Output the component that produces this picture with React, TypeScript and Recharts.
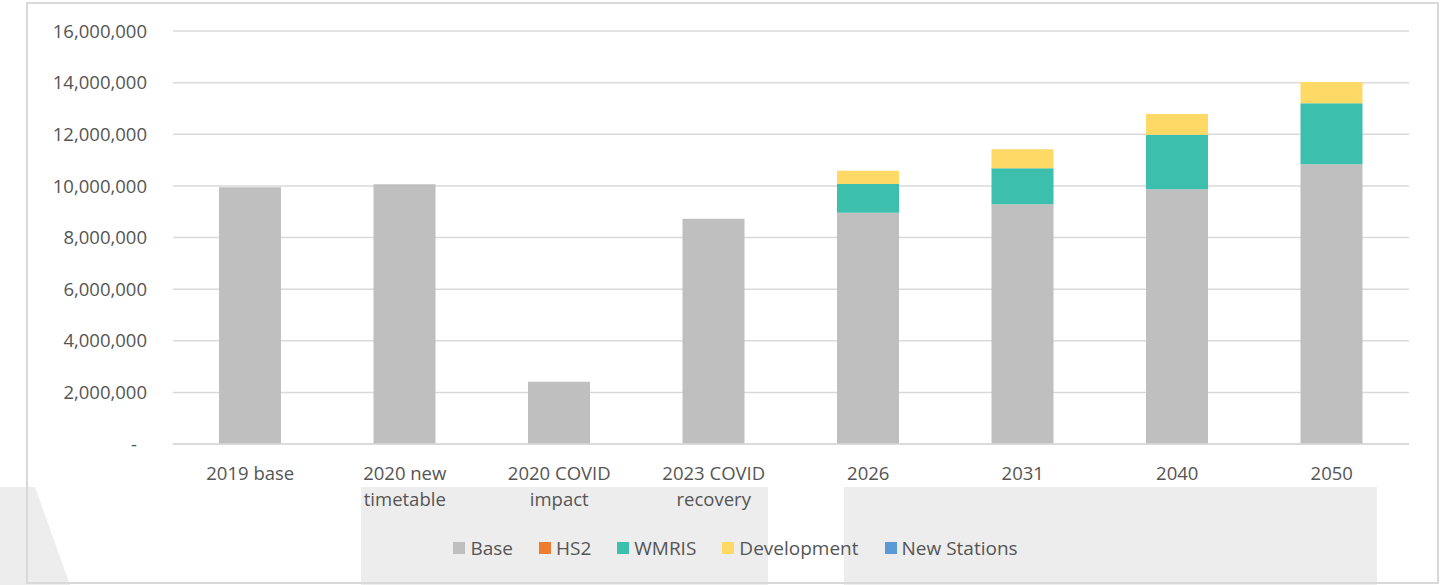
import React from 'react';
import { BarChart, Bar, XAxis, YAxis, CartesianGrid, Legend } from 'recharts';

const categories = [
  '2019 base',
  '2020 new timetable',
  '2020 COVID impact',
  '2023 COVID recovery',
  '2026',
  '2031',
  '2040',
  '2050',
];
const baseValues = [9950000, 10060000, 2410000, 8730000, 8960000, 9290000, 9870000, 10840000];
const hs2Values = [0, 0, 0, 0, 0, 0, 0, 0];
const wmrisValues = [0, 0, 0, 0, 1110000, 1390000, 2110000, 2360000];
const developmentValues = [0, 0, 0, 0, 520000, 740000, 800000, 820000];
const newStationsValues = [0, 0, 0, 0, 0, 0, 0, 0];
const yTicks = [0, 2000000, 4000000, 6000000, 8000000, 10000000, 12000000, 14000000, 16000000];

const seriesKeys = ['base', 'hs2', 'wmris', 'development', 'newStations'];
const seriesNames = ['Base', 'HS2', 'WMRIS', 'Development', 'New Stations'];
const seriesColors = ['#BFBFBF', '#ED7D31', '#3DBFAD', '#FFD966', '#5B9BD5'];

const data = categories.map((c, i) => ({
  name: c,
  base: baseValues[i],
  hs2: hs2Values[i],
  wmris: wmrisValues[i],
  development: developmentValues[i],
  newStations: newStationsValues[i],
}));

const FONT = '"Open Sans", "Noto Sans", sans-serif';
const TEXT = '#555555';
const FS = 18.5;

const fmt = (v: number) => v.toLocaleString('en-US');

const YTick = (props: any) => {
  const { x, y, payload } = props;
  const isZero = payload.value === 0;
  return (
    <text
      x={isZero ? x - 10 : x}
      y={y}
      dy="0.36em"
      textAnchor="end"
      fill={TEXT}
      fontFamily={FONT}
      fontSize={FS}
    >
      {isZero ? '-' : fmt(payload.value)}
    </text>
  );
};

const XTick = (props: any) => {
  const { x, y, payload } = props;
  const words = String(payload.value).split(' ');
  const lines = words.length > 2 ? [words.slice(0, 2).join(' '), words.slice(2).join(' ')] : [words.join(' ')];
  return (
    <text x={x} y={y + 36} textAnchor="middle" fill={TEXT} fontFamily={FONT} fontSize={FS}>
      {lines.map((l, i) => (
        <tspan key={i} x={x} dy={i === 0 ? 0 : 26}>
          {l}
        </tspan>
      ))}
    </text>
  );
};

const LegendContent = () => (
  <div
    style={{
      display: 'flex',
      justifyContent: 'center',
      alignItems: 'center',
      fontFamily: FONT,
      fontSize: 19,
      color: TEXT,
      lineHeight: '26px',
    }}
  >
    {seriesNames.map((n, i) => (
      <span
        key={n}
        style={{ display: 'flex', alignItems: 'center', marginRight: i < seriesNames.length - 1 ? 26 : 0 }}
      >
        <span
          style={{ width: 12, height: 12, background: seriesColors[i], marginRight: 5, display: 'inline-block' }}
        />
        {n}
      </span>
    ))}
  </div>
);

export default function App() {
  return (
    <div
      style={{
        position: 'absolute',
        left: 0,
        top: 0,
        width: 1449,
        height: 585,
        background: '#FFFFFF',
        overflow: 'hidden',
      }}
    >
      <svg width={1449} height={585} style={{ position: 'absolute', left: 0, top: 0 }}>
        <polygon points="0,487 35,487 70,585 0,585" fill="#EDEDED" />
        <rect x={361} y={487} width={407} height={98} fill="#EDEDED" />
        <rect x={844} y={487} width={533} height={98} fill="#EDEDED" />
        <rect x={27} y={3} width={1411} height={580} fill="none" stroke="#D9D9D9" strokeWidth={2} />
      </svg>
      <div style={{ position: 'absolute', left: 0, top: 0 }}>
        <BarChart
          width={1449}
          height={585}
          data={data}
          margin={{ top: 31, right: 40, bottom: 81, left: 0 }}
          barSize={62}
        >
          <CartesianGrid vertical={false} stroke="#D9D9D9" strokeWidth={1.5} />
          <XAxis
            dataKey="name"
            tick={<XTick />}
            tickLine={false}
            axisLine={{ stroke: '#D9D9D9', strokeWidth: 1.5 }}
            height={60}
            interval={0}
            tickSize={0}
            tickMargin={0}
          />
          <YAxis
            domain={[0, 16000000]}
            ticks={yTicks}
            tick={<YTick />}
            tickLine={false}
            axisLine={false}
            width={173}
            tickSize={0}
            tickMargin={26}
            interval={0}
          />
          <Legend
            layout="horizontal"
            align="center"
            verticalAlign="middle"
            content={<LegendContent />}
            wrapperStyle={{ top: 535, left: 30, width: 1411 }}
          />
          {seriesKeys.map((k, i) => (
            <Bar
              key={k}
              dataKey={k}
              name={seriesNames[i]}
              stackId="a"
              fill={seriesColors[i]}
              isAnimationActive={false}
            />
          ))}
        </BarChart>
      </div>
    </div>
  );
}
